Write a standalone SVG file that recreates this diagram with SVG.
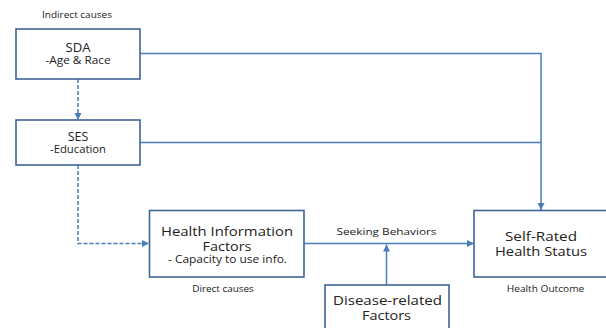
<svg xmlns="http://www.w3.org/2000/svg" width="606" height="328" viewBox="0 0 606 328">
<defs>
<marker id="arr" viewBox="0 0 10 10" refX="10" refY="5" markerWidth="7" markerHeight="7" markerUnits="userSpaceOnUse" orient="auto">
<path d="M0,0 L10,5 L0,10 z" fill="#4a7ebb"/>
</marker>
<style>
.box{fill:#fff;stroke:#3f6399;stroke-width:1.6}
.ln{fill:none;stroke:#4a7ebb;stroke-width:1.5}
.dash{stroke-dasharray:4,2}
text{font-family:"Open Sans","Noto Sans","DejaVu Sans",sans-serif;fill:#222;text-anchor:middle;lengthAdjust:spacingAndGlyphs}
.big{font-size:13px}
.mid{font-size:10.5px}
.sm{font-size:9.5px}
</style>
</defs>
<rect width="606" height="328" fill="#fff"/>
<g id="connectors">
<path class="ln" d="M140,53.5 H541 V210" marker-end="url(#arr)"/>
<path class="ln" d="M140,142.5 H541"/>
<path class="ln dash" d="M78,79 V120" marker-end="url(#arr)"/>
<path class="ln dash" d="M78,165 V243.5 H149" marker-end="url(#arr)"/>
<path class="ln" d="M304,243.5 H474" marker-end="url(#arr)"/>
<path class="ln" d="M386.5,285 V244.5" marker-end="url(#arr)"/>
</g>
<g id="labels">
<text class="sm" x="77" y="18" textLength="70" lengthAdjust="spacingAndGlyphs">Indirect causes</text>
<text class="sm" x="223" y="292" textLength="61.5" lengthAdjust="spacingAndGlyphs">Direct causes</text>
<text class="sm" x="545.5" y="292" textLength="77.5" lengthAdjust="spacingAndGlyphs">Health Outcome</text>
<text class="sm" x="386.5" y="235" textLength="100" lengthAdjust="spacingAndGlyphs">Seeking Behaviors</text>
</g>
<g id="sda">
<rect class="box" x="16" y="29" width="124" height="50"/>
<text class="big" x="78" y="52" font-size="12" textLength="25" lengthAdjust="spacingAndGlyphs">SDA</text>
<text class="mid" x="78" y="63.5" textLength="65" lengthAdjust="spacingAndGlyphs">-Age &amp; Race</text>
</g>
<g id="ses">
<rect class="box" x="16" y="120" width="124" height="45"/>
<text class="big" x="78" y="141" font-size="12" textLength="20.5" lengthAdjust="spacingAndGlyphs">SES</text>
<text class="mid" x="78" y="152.5" textLength="56" lengthAdjust="spacingAndGlyphs">-Education</text>
</g>
<g id="hif">
<rect class="box" x="149.5" y="210.5" width="154.5" height="66.5"/>
<text class="big" x="227" y="235.5" textLength="132" lengthAdjust="spacingAndGlyphs">Health Information</text>
<text class="big" x="227" y="250.5" textLength="49" lengthAdjust="spacingAndGlyphs">Factors</text>
<text class="mid" x="227.5" y="263" textLength="119" lengthAdjust="spacingAndGlyphs">- Capacity to use info.</text>
</g>
<g id="srhs">
<rect class="box" x="474" y="210.5" width="140" height="66.5"/>
<text class="big" x="541" y="241" textLength="72" lengthAdjust="spacingAndGlyphs">Self-Rated</text>
<text class="big" x="541" y="256" textLength="92" lengthAdjust="spacingAndGlyphs">Health Status</text>
</g>
<g id="disease">
<rect class="box" x="325" y="285" width="124" height="50"/>
<text class="big" x="387.5" y="305" textLength="109" lengthAdjust="spacingAndGlyphs">Disease-related</text>
<text class="big" x="386.5" y="320" textLength="49" lengthAdjust="spacingAndGlyphs">Factors</text>
</g>
</svg>
